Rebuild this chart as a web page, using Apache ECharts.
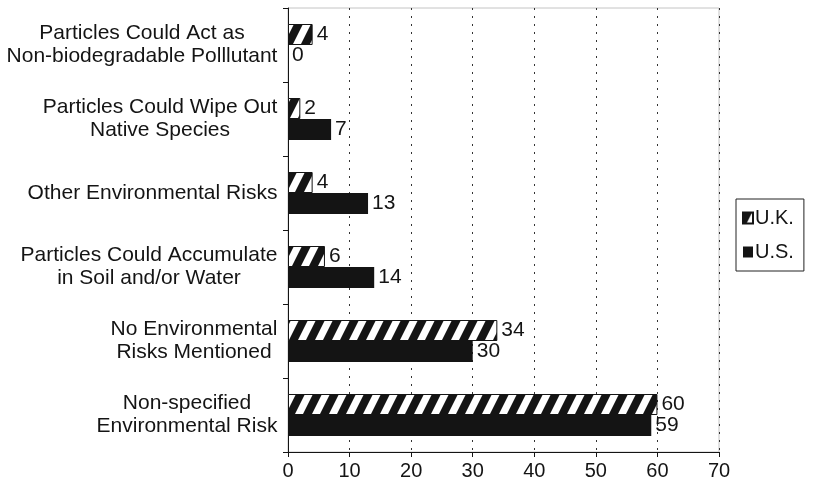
<!DOCTYPE html>
<html>
<head>
<meta charset="utf-8">
<script src="https://cdn.jsdelivr.net/npm/echarts@6/dist/echarts.min.js"></script>
<style>
html,body{margin:0;padding:0;background:#fff;}
#chart{width:815px;height:485px;}
</style>
</head>
<body>
<div id="chart"></div>
<script>
// Data (top to bottom as shown)
var categories = [
  "Particles Could Act as\nNon-biodegradable Polllutant",
  "Particles Could Wipe Out\nNative Species",
  "Other Environmental Risks",
  "Particles Could Accumulate\nin Soil and/or Water",
  "No Environmental\nRisks Mentioned",
  "Non-specified\nEnvironmental Risk"
];
var ukValues = [4, 2, 4, 6, 34, 60];
var usValues = [0, 7, 13, 14, 30, 59];
var seriesNames = ["U.K.", "U.S."];
var xTicks = [0, 10, 20, 30, 40, 50, 60, 70];

var FONT = "Liberation Sans, Arial, Helvetica, sans-serif";
var FS = 21;

// hatch pattern
var pat = document.createElement('canvas');
pat.width = 17; pat.height = 34;
var pc = pat.getContext('2d');
pc.fillStyle = '#fff'; pc.fillRect(0, 0, 17, 34);
pc.fillStyle = '#141414';
for (var k = -2; k <= 1; k++) {
  var x0 = k * 17;
  pc.beginPath();
  pc.moveTo(x0, 34); pc.lineTo(x0 + 9, 34); pc.lineTo(x0 + 26, 0); pc.lineTo(x0 + 17, 0);
  pc.closePath(); pc.fill();
}

// measure label block widths so lines are centered within each label
var mc = document.createElement('canvas').getContext('2d');
mc.font = FS + 'px ' + FONT;
var rich = {};
var catIndex = {};
categories.forEach(function (c, i) {
  var w = 0;
  c.split('\n').forEach(function (l) { w = Math.max(w, mc.measureText(l).width); });
  rich['w' + i] = { width: Math.ceil(w) + 1, align: 'center', fontSize: FS, fontFamily: FONT, color: '#141414', lineHeight: 23 };
  catIndex[c] = i;
});

var chart = echarts.init(document.getElementById('chart'), null, { renderer: 'canvas' });
chart.setOption({
  animation: false,
  backgroundColor: '#fff',
  grid: { left: 288, right: 96, top: 8, bottom: 33, show: true, borderColor: '#c4c4c4', borderWidth: 1, backgroundColor: 'transparent' },
  legend: {
    data: seriesNames,
    orient: 'vertical',
    left: 736, top: 199,
    padding: [9, 10, 9, 6],
    icon: 'rect',
    itemWidth: 10, itemHeight: 11,
    itemGap: 14,
    borderColor: '#222', borderWidth: 1,
    textStyle: { fontSize: 20, fontFamily: FONT, color: '#141414', padding: [0, 0, 0, -3] }
  },
  xAxis: {
    type: 'value', min: 0, max: 70, interval: 10,
    axisLine: { show: true, lineStyle: { color: '#141414', width: 1 } },
    axisTick: { show: true, length: 5, lineStyle: { color: '#141414' } },
    axisLabel: { fontSize: 20, fontFamily: FONT, color: '#141414', margin: 9,
      formatter: function (v) { return xTicks.indexOf(v) >= 0 ? String(v) : ''; } },
    splitLine: { show: true, lineStyle: { color: '#333', type: [2, 6], width: 1 } }
  },
  yAxis: {
    type: 'category', data: categories, inverse: true,
    axisLine: { show: true, lineStyle: { color: '#141414', width: 1 } },
    axisTick: { show: true, length: 5, lineStyle: { color: '#141414' } },
    axisLabel: {
      align: 'right', margin: 10, interval: 0,
      formatter: function (v) {
        var i = catIndex[v];
        return v.split('\n').map(function (l) { return '{w' + i + '|' + l + '}'; }).join('\n');
      },
      rich: rich
    }
  },
  series: [
    {
      name: seriesNames[0], type: 'bar', data: ukValues,
      barWidth: 21, barGap: '0%',
      itemStyle: { color: { image: pat, repeat: 'repeat' }, borderColor: '#141414', borderWidth: 1 },
      label: { show: true, position: 'right', distance: 4, fontSize: FS, fontFamily: FONT, color: '#141414' }
    },
    {
      name: seriesNames[1], type: 'bar', data: usValues,
      barWidth: 21, barGap: '0%',
      itemStyle: { color: '#141414' },
      label: { show: true, position: 'right', distance: 4, fontSize: FS, fontFamily: FONT, color: '#141414' }
    }
  ]
});
</script>
</body>
</html>
